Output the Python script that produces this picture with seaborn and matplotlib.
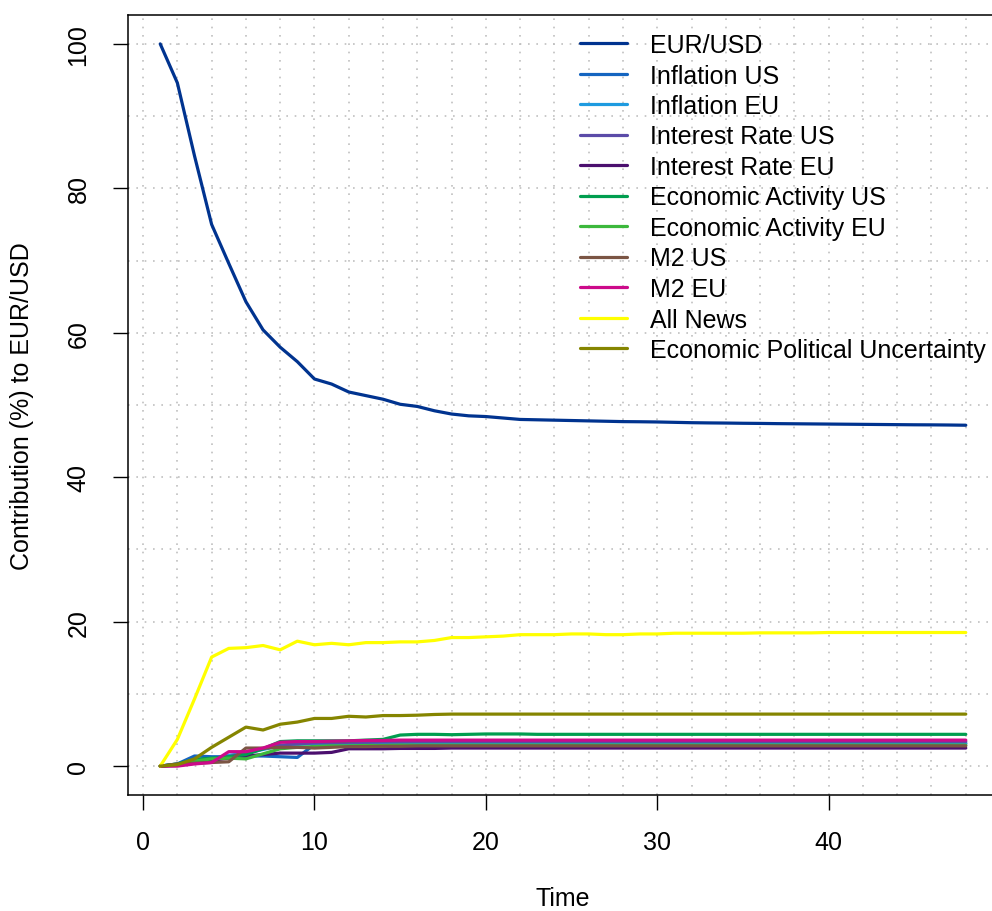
import matplotlib
matplotlib.use("Agg")
import matplotlib.pyplot as plt
from matplotlib.lines import Line2D
import numpy as np
import pandas as pd
import seaborn as sns

# Forecast error variance decomposition of EUR/USD, horizons 1..48
time = list(range(1, 49))

eur_usd = [100.0, 94.6, 84.5, 75.0, 69.6, 64.3, 60.4, 58.0, 56.0, 53.6,
           52.9, 51.8, 51.3, 50.8, 50.1, 49.8, 49.2, 48.75, 48.5, 48.4,
           48.2, 48.0, 47.95, 47.9, 47.85, 47.8, 47.75, 47.7, 47.68, 47.65,
           47.6, 47.55, 47.52, 47.5, 47.47, 47.45, 47.42, 47.4, 47.38, 47.36,
           47.34, 47.32, 47.3, 47.28, 47.26, 47.25, 47.23, 47.2]
inflation_us = [0.0, 0.3, 1.4, 1.3, 1.3, 1.4, 1.4, 1.3, 1.2, 3.0,
                3.0, 3.0, 3.05, 3.05, 3.1, 3.1, 3.1, 3.1, 3.1, 3.1,
                3.1, 3.1, 3.1, 3.1, 3.1, 3.1, 3.1, 3.1, 3.1, 3.1,
                3.1, 3.1, 3.1, 3.1, 3.1, 3.1, 3.1, 3.1, 3.1, 3.1,
                3.1, 3.1, 3.1, 3.1, 3.1, 3.1, 3.1, 3.1]
inflation_eu = [0.0, 0.2, 0.6, 0.8, 1.5, 1.8, 2.3, 2.8, 3.0, 3.1,
                3.1, 3.15, 3.15, 3.2, 3.2, 3.2, 3.2, 3.2, 3.2, 3.2,
                3.2, 3.2, 3.2, 3.2, 3.2, 3.2, 3.2, 3.2, 3.2, 3.2,
                3.2, 3.2, 3.2, 3.2, 3.2, 3.2, 3.2, 3.2, 3.2, 3.2,
                3.2, 3.2, 3.2, 3.2, 3.2, 3.2, 3.2, 3.2]
interest_us = [0.0, 0.2, 0.7, 1.0, 1.3, 1.8, 2.4, 2.9, 3.1, 3.2,
               3.2, 3.3, 3.3, 3.35, 3.35, 3.4, 3.4, 3.4, 3.4, 3.4,
               3.4, 3.4, 3.4, 3.4, 3.4, 3.4, 3.4, 3.4, 3.4, 3.4,
               3.4, 3.4, 3.4, 3.4, 3.4, 3.4, 3.4, 3.4, 3.4, 3.4,
               3.4, 3.4, 3.4, 3.4, 3.4, 3.4, 3.4, 3.4]
interest_eu = [0.0, 0.1, 0.4, 0.8, 1.1, 1.4, 1.6, 1.8, 1.8, 1.8,
               1.9, 2.4, 2.4, 2.4, 2.45, 2.45, 2.45, 2.5, 2.5, 2.5,
               2.5, 2.5, 2.5, 2.5, 2.5, 2.5, 2.5, 2.5, 2.5, 2.5,
               2.5, 2.5, 2.5, 2.5, 2.5, 2.5, 2.5, 2.5, 2.5, 2.5,
               2.5, 2.5, 2.5, 2.5, 2.5, 2.5, 2.5, 2.5]
activity_us = [0.0, 0.3, 0.9, 1.1, 1.3, 1.6, 2.4, 3.4, 3.5, 3.5,
               3.5, 3.5, 3.6, 3.7, 4.3, 4.4, 4.4, 4.35, 4.4, 4.45,
               4.45, 4.45, 4.4, 4.4, 4.4, 4.4, 4.4, 4.4, 4.4, 4.4,
               4.4, 4.4, 4.4, 4.4, 4.4, 4.4, 4.4, 4.4, 4.4, 4.4,
               4.4, 4.4, 4.4, 4.4, 4.4, 4.4, 4.4, 4.4]
activity_eu = [0.0, 0.2, 0.7, 1.0, 1.1, 1.0, 1.7, 2.4, 2.6, 2.7,
               2.8, 2.8, 2.85, 2.85, 2.9, 2.9, 2.9, 2.9, 2.9, 2.9,
               2.9, 2.9, 2.9, 2.9, 2.9, 2.9, 2.9, 2.9, 2.9, 2.9,
               2.9, 2.9, 2.9, 2.9, 2.9, 2.9, 2.9, 2.9, 2.9, 2.9,
               2.9, 2.9, 2.9, 2.9, 2.9, 2.9, 2.9, 2.9]
m2_us = [0.0, 0.3, 0.4, 0.5, 0.6, 2.5, 2.5, 2.6, 2.6, 2.5,
         2.6, 2.7, 2.7, 2.75, 2.75, 2.8, 2.8, 2.8, 2.8, 2.8,
         2.8, 2.8, 2.8, 2.8, 2.8, 2.8, 2.8, 2.8, 2.8, 2.8,
         2.8, 2.8, 2.8, 2.8, 2.8, 2.8, 2.8, 2.8, 2.8, 2.8,
         2.8, 2.8, 2.8, 2.8, 2.8, 2.8, 2.8, 2.8]
m2_eu = [0.0, 0.0, 0.3, 0.5, 2.0, 2.0, 2.5, 3.3, 3.4, 3.4,
         3.45, 3.5, 3.55, 3.55, 3.6, 3.6, 3.6, 3.6, 3.6, 3.6,
         3.6, 3.6, 3.6, 3.6, 3.6, 3.6, 3.6, 3.6, 3.6, 3.6,
         3.6, 3.6, 3.6, 3.6, 3.6, 3.6, 3.6, 3.6, 3.6, 3.6,
         3.6, 3.6, 3.6, 3.6, 3.6, 3.6, 3.6, 3.6]
all_news = [0.0, 3.7, 9.3, 15.1, 16.3, 16.4, 16.7, 16.1, 17.3, 16.8,
            17.0, 16.8, 17.1, 17.1, 17.2, 17.2, 17.4, 17.8, 17.8, 17.9,
            18.0, 18.2, 18.2, 18.2, 18.3, 18.3, 18.2, 18.2, 18.3, 18.3,
            18.4, 18.4, 18.4, 18.4, 18.4, 18.45, 18.45, 18.45, 18.45, 18.5,
            18.5, 18.5, 18.5, 18.5, 18.5, 18.5, 18.5, 18.5]
epu = [0.0, 0.2, 1.0, 2.6, 4.0, 5.4, 5.0, 5.8, 6.1, 6.6,
       6.6, 6.9, 6.8, 7.0, 7.0, 7.05, 7.15, 7.2, 7.2, 7.2,
       7.2, 7.2, 7.2, 7.2, 7.2, 7.2, 7.2, 7.2, 7.2, 7.2,
       7.2, 7.2, 7.2, 7.2, 7.2, 7.2, 7.2, 7.2, 7.2, 7.2,
       7.2, 7.2, 7.2, 7.2, 7.2, 7.2, 7.2, 7.2]

series_names = ["EUR/USD", "Inflation US", "Inflation EU", "Interest Rate US",
                "Interest Rate EU", "Economic Activity US", "Economic Activity EU",
                "M2 US", "M2 EU", "All News", "Economic Political Uncertainty"]
series_values = [eur_usd, inflation_us, inflation_eu, interest_us, interest_eu,
                 activity_us, activity_eu, m2_us, m2_eu, all_news, epu]
series_colors = ["#00338F", "#1565C0", "#1E9BE0", "#5B4BA8", "#4B0F6E",
                 "#009E4F", "#3CB83C", "#7B5544", "#CC0A8A", "#FFFF00", "#858500"]

df = pd.DataFrame({
    "Time": np.tile(time, len(series_names)),
    "Contribution": np.concatenate(series_values),
    "Series": np.repeat(series_names, len(time)),
})

sns.set_style("white")
plt.rcParams["font.family"] = ["Liberation Sans", "DejaVu Sans"]
plt.rcParams["text.color"] = "black"
plt.rcParams["axes.labelcolor"] = "black"

W, H = 992, 912
fig = plt.figure(figsize=(W / 100, H / 100), dpi=100)
left, right, top, bottom = 128, 998, 16, 796
ax = fig.add_axes([left / W, 1 - bottom / H, (right - left) / W, (bottom - top) / H])

# dotted background grid
grid_kw = dict(color="#C0C0C0", linewidth=1.2, linestyle=(0, (1, 4)), zorder=0)
for gx in range(0, 51, 2):
    ax.axvline(gx, **grid_kw)
for gy in range(0, 101, 10):
    ax.axhline(gy, **grid_kw)

sns.lineplot(data=df, x="Time", y="Contribution", hue="Series",
             hue_order=series_names, palette=dict(zip(series_names, series_colors)),
             linewidth=2.3, legend=False, ax=ax, zorder=3)

ax.set_xlim(-0.88, 49.88)
ax.set_ylim(-4, 104)
ax.set_xticks([0, 10, 20, 30, 40])
ax.set_yticks([0, 20, 40, 60, 80, 100])
ax.set_xlabel("")
ax.set_ylabel("")
ax.tick_params(axis="both", which="major", bottom=True, left=True,
               direction="out", length=11, width=1.0, color="black",
               labelsize=18, labelcolor="black")
ax.tick_params(axis="x", pad=14)
ax.tick_params(axis="y", pad=16)
for lab in ax.get_yticklabels():
    lab.set_rotation(90)
    lab.set_va("center")
for sp in ax.spines.values():
    sp.set_visible(True)
    sp.set_color("black")
    sp.set_linewidth(1.1)

fig.text(563 / W, 1 - 899 / H, "Time", ha="center", va="center", fontsize=18)
fig.text(22 / W, 1 - 406 / H, "Contribution (%) to EUR/USD", ha="center",
         va="center", rotation=90, fontsize=18)

handles = [Line2D([], [], color=c, linewidth=2.3) for c in series_colors]
ax.legend(handles, series_names, loc="upper left",
          bbox_to_anchor=(580 / W, 1 - 34 / H), bbox_transform=fig.transFigure,
          frameon=False, fontsize=18, handlelength=1.88, handletextpad=0.92,
          labelspacing=0.26, borderpad=0, borderaxespad=0)

fig.savefig("out.png", dpi=100)
